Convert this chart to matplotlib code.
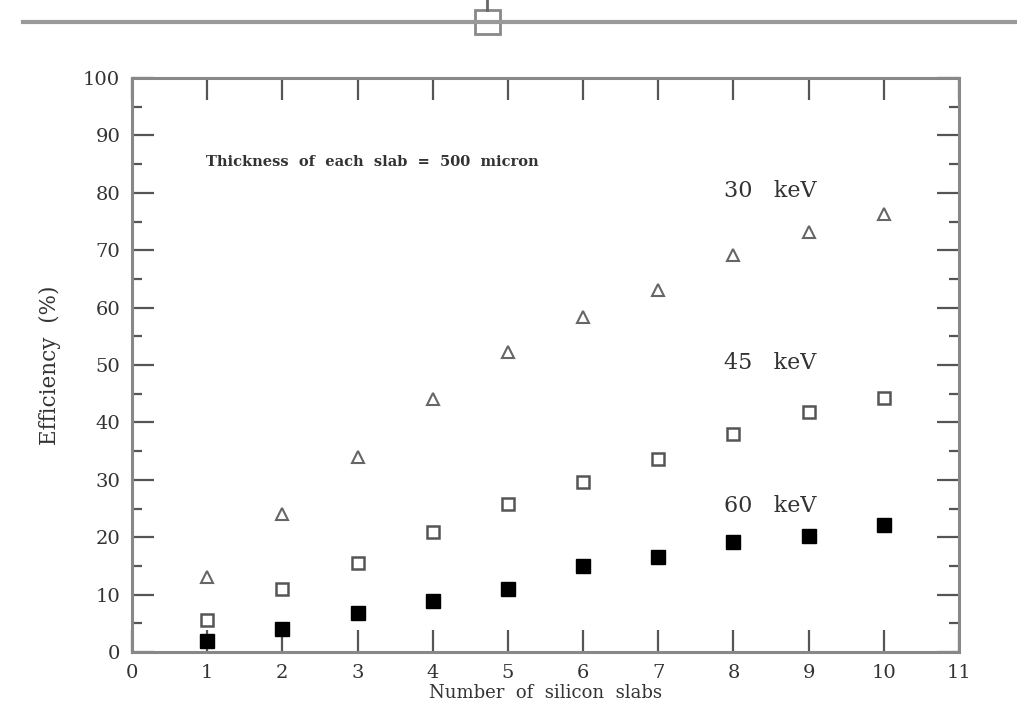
import numpy as np
import matplotlib.pyplot as plt
from matplotlib.ticker import MultipleLocator

# efficiency vs number of 500 micron silicon slabs
slabs = [1, 2, 3, 4, 5, 6, 7, 8, 9, 10]
eff_30kev = [13.0, 24.0, 34.0, 44.0, 52.3, 58.3, 63.0, 69.2, 73.2, 76.3]
eff_45kev = [5.6, 11.0, 15.5, 20.9, 25.8, 29.7, 33.7, 38.0, 41.8, 44.3]
eff_60kev = [1.9, 4.0, 6.8, 8.9, 11.0, 15.0, 16.6, 19.2, 20.2, 22.2]
series_names = ['30 keV', '45 keV', '60 keV']
label_pos = [(7.88, 80.3), (7.88, 50.3), (7.88, 25.5)]

plt.rcParams['font.family'] = ['DejaVu Serif']

fig = plt.figure(figsize=(10.17, 7.08), dpi=100)

# thin ruler line with handle across the top of the page
fig.add_artist(plt.Line2D([23/1017, 1.0], [1-22/708, 1-22/708], color='#999999', lw=3))
fig.add_artist(plt.Line2D([487/1017, 487/1017], [1.0, 1-10/708], color='#666666', lw=2))
fig.add_artist(plt.Rectangle((475/1017, 1-34/708), 25/1017, 24/708, facecolor='white',
                             edgecolor='#888888', lw=2))

ax = fig.add_axes([132/1017, 1-652/708, (959-132)/1017, (652-78)/708])
ax.plot(slabs, eff_30kev, '^', ms=8.5, mfc='none', mec='#666666', mew=1.5)
ax.plot(slabs, eff_45kev, 's', ms=8, mfc='none', mec='#555555', mew=1.8)
ax.plot(slabs, eff_60kev, 's', ms=9.5, mfc='black', mec='black')

for name, (lx, ly) in zip(series_names, label_pos):
    ax.text(lx, ly, name.replace(' ', '   '), fontsize=16, color='#333333', va='center')

ax.text(0.98, 85.3, 'Thickness  of  each  slab  =  500  micron', fontsize=10.5,
        fontweight='bold', color='#333333', va='center')

ax.set_xlim(0, 11)
ax.set_ylim(0, 100)
ax.xaxis.set_major_locator(MultipleLocator(1))
ax.yaxis.set_major_locator(MultipleLocator(10))
ax.yaxis.set_minor_locator(MultipleLocator(5))
ax.tick_params(which='both', direction='in', top=True, right=True, colors='#555555',
               labelcolor='#333333', labelsize=14)
ax.tick_params(which='major', length=16, width=1.6)
ax.tick_params(which='minor', length=7, width=1.6)
ax.tick_params(axis='x', pad=9)
ax.tick_params(axis='y', pad=8.5)
for sp in ax.spines.values():
    sp.set_color('#888888')
    sp.set_linewidth(2.2)

ax.set_xlabel('Number  of  silicon  slabs', fontsize=13, color='#333333', labelpad=1)
ax.set_ylabel('Efficiency  (%)', fontsize=15.5, color='#333333', labelpad=16)

fig.savefig('out.png', dpi=100)
